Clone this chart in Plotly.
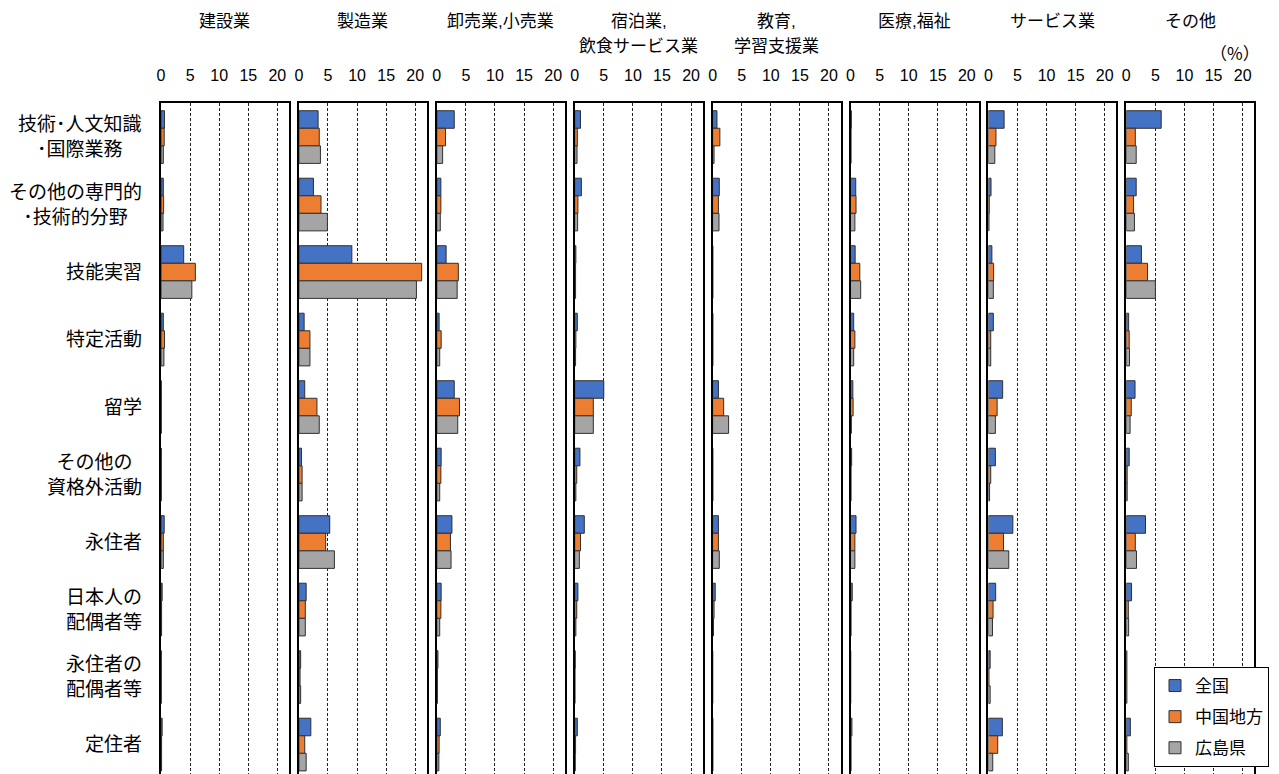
import plotly.graph_objects as go

industries = [["建設業"], ["製造業"], ["卸売業,小売業"], ["宿泊業,", "飲食サービス業"],
              ["教育,", "学習支援業"], ["医療,福祉"], ["サービス業"], ["その他"]]

categories = ["技術･人文知識<br>･国際業務", "その他の専門的<br>･技術的分野", "技能実習", "特定活動", "留学",
              "その他の<br>資格外活動", "永住者", "日本人の<br>配偶者等", "永住者の<br>配偶者等", "定住者"]

series_names = ["全国", "中国地方", "広島県"]
colors = ["#4472C4", "#ED7D31", "#A5A5A5"]

# values[industry][series] -> list over categories (%)
zenkoku = [
    [0.6, 0.4, 3.9, 0.4, 0.05, 0.05, 0.55, 0.2, 0.05, 0.2],
    [3.3, 2.5, 9.1, 0.9, 1.0, 0.45, 5.3, 1.25, 0.3, 2.05],
    [3.0, 0.7, 1.6, 0.4, 3.0, 0.75, 2.6, 0.75, 0.2, 0.6],
    [1.0, 1.15, 0.2, 0.45, 5.0, 0.9, 1.65, 0.55, 0.1, 0.45],
    [0.75, 1.15, 0.05, 0.05, 1.0, 0.05, 1.0, 0.45, 0.02, 0.05],
    [0.15, 0.9, 0.8, 0.55, 0.4, 0.2, 0.95, 0.3, 0.05, 0.25],
    [2.7, 0.45, 0.6, 0.85, 2.45, 1.2, 4.2, 1.25, 0.3, 2.4],
    [6.0, 1.7, 2.6, 0.4, 1.5, 0.5, 3.3, 0.9, 0.1, 0.7],
]
chugoku = [
    [0.55, 0.45, 5.9, 0.6, 0.05, 0.05, 0.4, 0.1, 0.05, 0.1],
    [3.5, 3.8, 21.1, 1.9, 3.1, 0.55, 4.6, 1.1, 0.2, 1.0],
    [1.5, 0.7, 3.7, 0.75, 3.9, 0.7, 2.35, 0.7, 0.1, 0.4],
    [0.45, 0.55, 0.15, 0.2, 3.2, 0.35, 1.0, 0.35, 0.05, 0.15],
    [1.25, 1.0, 0.05, 0.05, 1.9, 0.05, 1.0, 0.25, 0.02, 0.05],
    [0.1, 0.95, 1.6, 0.75, 0.45, 0.1, 0.75, 0.1, 0.05, 0.1],
    [1.3, 0.15, 0.9, 0.4, 1.5, 0.4, 2.6, 0.8, 0.1, 1.6],
    [1.55, 1.25, 3.65, 0.5, 0.85, 0.15, 1.55, 0.35, 0.1, 0.1],
]
hiroshima = [
    [0.4, 0.35, 5.3, 0.5, 0.05, 0.05, 0.4, 0.1, 0.05, 0.1],
    [3.7, 4.9, 20.2, 1.9, 3.5, 0.55, 6.1, 1.1, 0.3, 1.25],
    [1.0, 0.6, 3.5, 0.5, 3.6, 0.5, 2.45, 0.5, 0.1, 0.35],
    [0.4, 0.5, 0.15, 0.15, 3.2, 0.2, 0.8, 0.2, 0.05, 0.1],
    [0.25, 1.1, 0.05, 0.05, 2.75, 0.05, 1.15, 0.15, 0.02, 0.05],
    [0.1, 0.75, 1.75, 0.55, 0.15, 0.1, 0.75, 0.1, 0.05, 0.1],
    [1.1, 0.1, 0.85, 0.4, 1.2, 0.2, 3.5, 0.7, 0.3, 0.75],
    [1.7, 1.4, 5.0, 0.55, 0.65, 0.15, 1.75, 0.4, 0.1, 0.35],
]
series_values = [zenkoku, chugoku, hiroshima]

x_ticks = [0, 5, 10, 15, 20]
x_range = [0, 22]

W, H = 1279, 774
FONT = "Liberation Sans, Arial, Noto Sans CJK JP, sans-serif"

panel_left0 = 161.0
panel_pitch = 137.9
panel_w = 128.0
plot_top = 103.3
pitch_px = 67.5
n_cat = len(categories)
y_bottom_val = (n_cat - 1) + (H - (plot_top + pitch_px / 2 + (n_cat - 1) * pitch_px)) / pitch_px

fig = go.Figure()
layout = dict(
    width=W, height=H, margin=dict(l=0, r=0, t=0, b=0, autoexpand=False),
    paper_bgcolor="white", plot_bgcolor="white",
    barmode="group", bargap=0.22, bargroupgap=0,
    font=dict(family=FONT, color="black"),
    showlegend=True,
)

annotations = []
for i, ind in enumerate(industries):
    ax = "" if i == 0 else str(i + 1)
    for s in range(3):
        fig.add_trace(go.Bar(
            x=series_values[s][i], y=categories, orientation="h",
            name=series_names[s], marker=dict(color=colors[s], line=dict(color="#303030", width=1)),
            xaxis="x" + ax, yaxis="y" + ax, showlegend=(i == 0), legendgroup=series_names[s],
        ))
    left = panel_left0 + panel_pitch * i
    layout["xaxis" + ax] = dict(
        domain=[left / W, (left + panel_w) / W], range=x_range, side="top",
        anchor="y" + ax, tickvals=x_ticks, ticks="", tickfont=dict(size=16, family=FONT),
        ticklabelstandoff=14,
        showgrid=True, gridcolor="#222", griddash="3px,2px", gridwidth=1,
        showline=True, linecolor="black", linewidth=1.5, mirror=False, zeroline=False, fixedrange=True,
    )
    layout["yaxis" + ax] = dict(
        domain=[0, 1 - plot_top / H], type="category", categoryorder="array", categoryarray=categories,
        range=[y_bottom_val, -0.5], anchor="x" + ax, showticklabels=False, ticks="",
        showline=True, linecolor="black", linewidth=1.5, mirror=True, showgrid=False, zeroline=False,
    )
    cx = (left + panel_w / 2) / W
    ys = [22, 47]
    for k, line in enumerate(ind):
        annotations.append(dict(
            text=line, x=cx, y=1 - ys[k] / H, xref="paper", yref="paper",
            xanchor="center", yanchor="middle", showarrow=False, font=dict(size=17, family=FONT),
        ))

for c in categories:
    annotations.append(dict(
        text=c, x=144 / W, y=c, xref="paper", yref="y", xanchor="right", yanchor="middle",
        align="center", showarrow=False, font=dict(size=19, family=FONT),
    ))

annotations.append(dict(text="（%）", x=1235 / W, y=1 - 52 / H, xref="paper", yref="paper",
                        xanchor="center", yanchor="middle", showarrow=False,
                        font=dict(size=17, family="Noto Sans CJK JP, sans-serif")))

layout["annotations"] = annotations
layout["legend"] = dict(
    x=1154 / W, y=1 - 667 / H, xanchor="left", yanchor="top",
    bgcolor="white", bordercolor="black", borderwidth=1,
    font=dict(size=17, family=FONT), traceorder="grouped", tracegroupgap=6,
    itemwidth=30,
)
fig.update_layout(**layout)
fig.write_html("out.html", config={"displayModeBar": False},
               post_script="document.body.style.margin='0';document.body.style.overflow='hidden';")
